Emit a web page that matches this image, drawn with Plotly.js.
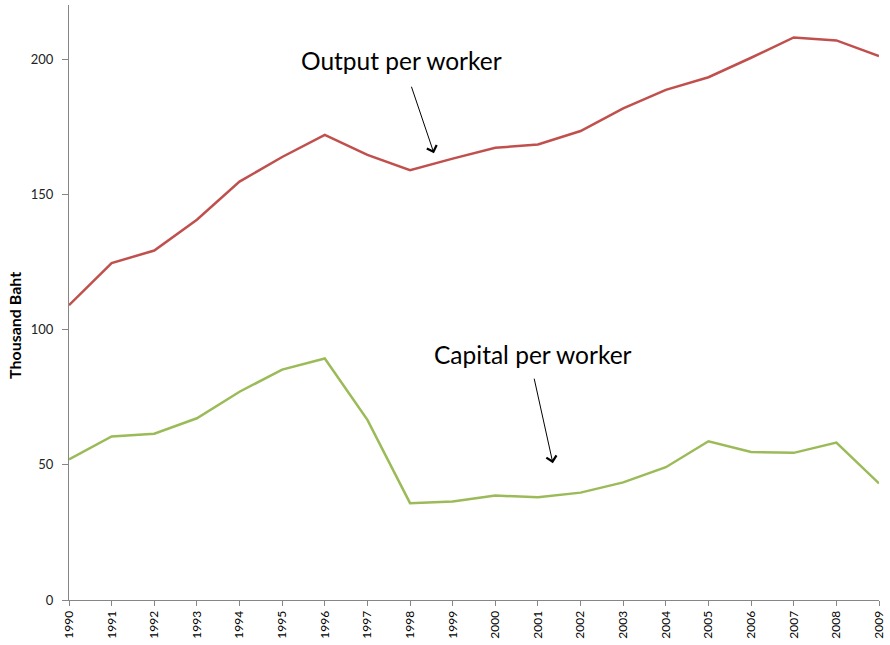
<!DOCTYPE html>
<html>
<head>
<meta charset="utf-8">
<script src="https://cdn.plot.ly/plotly-3.0.1.min.js"></script>
<style>html,body{margin:0;padding:0;background:#fff;}#chart{width:890px;height:645px;}</style>
</head>
<body>
<div id="chart"></div>
<script>
const years = [1990,1991,1992,1993,1994,1995,1996,1997,1998,1999,2000,2001,2002,2003,2004,2005,2006,2007,2008,2009];
const outputPerWorker = [109.0,124.6,129.2,140.6,154.7,163.8,172.0,164.6,158.9,163.2,167.2,168.4,173.4,181.8,188.6,193.3,200.5,208.0,206.9,201.1];
const capitalPerWorker = [52.0,60.5,61.5,67.2,77.0,85.2,89.3,66.6,35.8,36.4,38.6,38.0,39.7,43.5,49.1,58.7,54.7,54.4,58.2,43.1];
const yTicks = [0,50,100,150,200];

const font = "Lato, 'Open Sans', sans-serif";
const traces = [
  {x: years, y: outputPerWorker, type: 'scatter', mode: 'lines', name: 'Output per worker',
   line: {color: '#C0504D', width: 2.5}},
  {x: years, y: capitalPerWorker, type: 'scatter', mode: 'lines', name: 'Capital per worker',
   line: {color: '#9BBB59', width: 2.5}}
];
const layout = {
  width: 890, height: 645,
  margin: {l: 69, r: 11, t: 5, b: 45},
  paper_bgcolor: '#fff', plot_bgcolor: '#fff',
  showlegend: false,
  font: {family: font, color: '#000'},
  xaxis: {
    range: [1990, 2009], tickvals: years, ticktext: years.map(String), tickangle: -90,
    showgrid: false, zeroline: false, showline: true, linecolor: '#868686', linewidth: 1,
    ticks: 'outside', ticklen: 5, tickcolor: '#868686', tickfont: {size: 12, family: font, color: '#000'}
  },
  yaxis: {
    range: [0, 220], tickvals: yTicks, ticktext: yTicks.map(String),
    showgrid: false, zeroline: false, showline: true, linecolor: '#868686', linewidth: 1,
    ticks: 'outside', ticklen: 6, tickcolor: '#868686', ticklabelstandoff: 6,
    tickfont: {size: 13, family: font, color: '#222'}
  },
  annotations: [
    {xref: 'paper', yref: 'paper', x: -0.068, y: 0.462, xanchor: 'center', yanchor: 'middle',
     text: '<b>Thousand Baht</b>', textangle: -90,
     showarrow: false, font: {size: 16, family: font, color: '#000'}},
    {xref: 'x', yref: 'y', x: 1997.79, y: 199.6, text: 'Output per worker', showarrow: false,
     font: {size: 24.5, family: font, color: '#000'}},
    {xref: 'x', yref: 'y', x: 2000.89, y: 90.6, text: 'Capital per worker', showarrow: false,
     font: {size: 24.5, family: font, color: '#000'}},
    {xref: 'x', yref: 'y', x: 1998.56, y: 165.2, ax: -23, ay: -68, text: '', showarrow: true,
     arrowhead: 4, arrowsize: 2, arrowwidth: 1, arrowcolor: '#000'},
    {xref: 'x', yref: 'y', x: 2001.35, y: 50.6, ax: -19, ay: -86, text: '', showarrow: true,
     arrowhead: 4, arrowsize: 2, arrowwidth: 1, arrowcolor: '#000'}
  ]
};
Plotly.newPlot('chart', traces, layout, {displayModeBar: false, staticPlot: true});
</script>
</body>
</html>
